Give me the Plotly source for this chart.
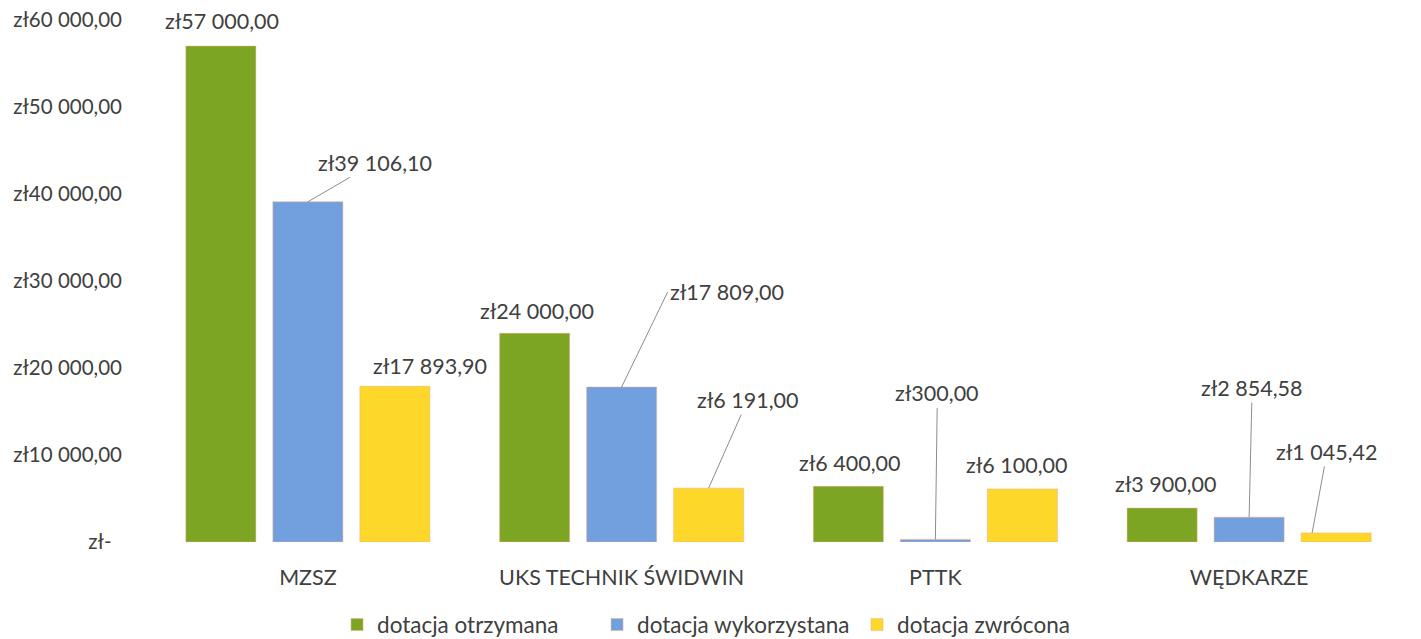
import plotly.graph_objects as go

categories = ["MZSZ", "UKS TECHNIK ŚWIDWIN", "PTTK", "WĘDKARZE"]
series_names = ["dotacja otrzymana", "dotacja wykorzystana", "dotacja zwrócona"]
otrzymana = [57000.00, 24000.00, 6400.00, 3900.00]
wykorzystana = [39106.10, 17809.00, 300.00, 2854.58]
zwrocona = [17893.90, 6191.00, 6100.00, 1045.42]
tick_vals = [0, 10000, 20000, 30000, 40000, 50000, 60000]
tick_text = ["zł-\u00a0\u00a0", "zł10 000,00", "zł20 000,00", "zł30 000,00", "zł40 000,00", "zł50 000,00", "zł60 000,00"]

colors = ["#7CA524", "#72A0DE", "#FDD82A"]
series_values = [otrzymana, wykorzystana, zwrocona]

FONT = "Lato"
TXT = "#404040"
FS_TICK = 20.5
FS_LAB = 21.5
FS_LEG = 22.5


def fmt(v):
    s = f"{v:,.2f}"
    s = s.replace(",", " ").replace(".", ",")
    return "zł" + s


fig = go.Figure()
for name, vals, col in zip(series_names, series_values, colors):
    fig.add_trace(go.Bar(
        x=categories, y=vals, name=name,
        marker=dict(color=col, line=dict(color="rgba(235,170,130,0.6)", width=0.8)),
    ))

# (series index, category index, dx, dy, arrow, xanchor)  -- pixel offsets from bar top
label_specs = [
    (0, 0, 1, -25, False, "center"),
    (1, 0, 67, -39, True, "center"),
    (2, 0, 35, -20, False, "center"),
    (0, 1, 2, -22, False, "center"),
    (1, 1, 46, -95, True, "left"),
    (2, 1, 39, -88, True, "center"),
    (0, 2, 2, -23, False, "center"),
    (1, 2, 2, -146, True, "center"),
    (2, 2, -5, -24, False, "center"),
    (0, 3, 4, -24, False, "center"),
    (1, 3, 3, -129, True, "center"),
    (2, 3, 15, -81, True, "center"),
]
pitch = 87
tip_shift = {(2, 3): -24}
for si, ci, dx, dy, arrow, xa in label_specs:
    v = series_values[si][ci]
    xs = (si - 1) * pitch + tip_shift.get((si, ci), 0)
    if arrow:
        fig.add_annotation(
            x=categories[ci], y=v, xref="x", yref="y", xshift=xs,
            text=fmt(v), showarrow=True, arrowhead=0, arrowwidth=1,
            arrowcolor="#8C8C8C", ax=dx, ay=dy, axref="pixel", ayref="pixel",
            xanchor=xa, yanchor="middle",
            font=dict(family=FONT, size=FS_LAB, color=TXT),
        )
    else:
        fig.add_annotation(
            x=categories[ci], y=v, xref="x", yref="y", xshift=xs + dx, yshift=-dy,
            text=fmt(v), showarrow=False, xanchor="center", yanchor="middle",
            font=dict(family=FONT, size=FS_LAB, color=TXT),
        )

fig.update_layout(
    width=1413, height=631,
    margin=dict(l=143, r=15, t=12, b=97, autoexpand=False),
    paper_bgcolor="white", plot_bgcolor="white",
    barmode="group", bargap=0.168, bargroupgap=0.195,
    font=dict(family=FONT, size=FS_TICK, color=TXT),
    showlegend=True,
    legend=dict(orientation="h", x=0.459, xanchor="center", y=-0.159, yanchor="middle",
                font=dict(family=FONT, size=FS_LEG, color=TXT), itemwidth=30,
                entrywidth=215, entrywidthmode="pixels", tracegroupgap=0),
    xaxis=dict(showgrid=False, showline=False, zeroline=False, ticks="", automargin=False,
               ticklabelstandoff=20, tickfont=dict(family=FONT, size=FS_LAB, color=TXT)),
    yaxis=dict(range=[0, 60000], tickvals=tick_vals, ticktext=tick_text, automargin=False,
               showgrid=False, showline=False, zeroline=False, ticks="",
               ticklabeloverflow="allow",
               ticklabelstandoff=28, tickfont=dict(family=FONT, size=FS_TICK, color=TXT)),
)

fig.write_html("out.html")
